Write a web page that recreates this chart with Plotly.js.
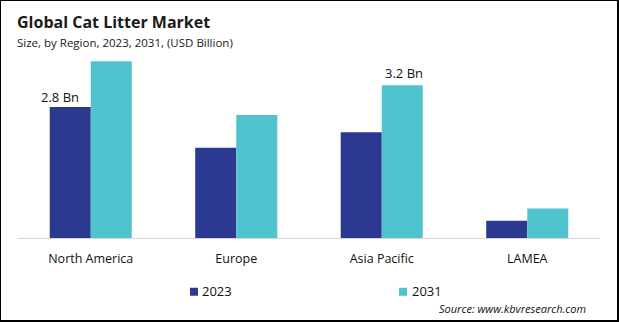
<!DOCTYPE html>
<html>
<head>
<meta charset="utf-8">
<script src="https://cdn.plot.ly/plotly-3.0.1.min.js"></script>
<style>
html,body{margin:0;padding:0;background:#fff;}
#wrap{width:616px;height:319px;border-left:1px solid #000;border-top:1px solid #000;border-right:2px solid #000;border-bottom:2px solid #000;}
#chart{width:616px;height:319px;}
</style>
</head>
<body>
<div id="wrap"><div id="chart"></div></div>
<script>
var categories = ["North America", "Europe", "Asia Pacific", "LAMEA"];
var values2023 = [2.8, 1.93, 2.26, 0.37];
var values2031 = [3.78, 2.63, 3.27, 0.63];
var seriesNames = ["2023", "2031"];
var colors = ["#2B3990", "#4FC4CF"];
var labelText = ["2.8 Bn", "3.2 Bn"];

var FONT = "Open Sans, sans-serif";
var plotW = 582, plotH = 187.84;
function px(x){ return (x - 18) / plotW; }
function py(y){ return (238.5 - y) / plotH; }

var traces = [
  {type: "bar", x: categories, y: values2023, name: seriesNames[0], marker: {color: colors[0]}, hoverinfo: "none"},
  {type: "bar", x: categories, y: values2031, name: seriesNames[1], marker: {color: colors[1]}, hoverinfo: "none"}
];

var annotations = [
  {xref: "paper", yref: "paper", x: px(15), y: py(22), xanchor: "left", yanchor: "middle", showarrow: false,
   text: "<b>Global Cat Litter Market</b>", font: {family: FONT, size: 16, color: "#1a1a1a"}},
  {xref: "paper", yref: "paper", x: px(15), y: py(42.5), xanchor: "left", yanchor: "middle", showarrow: false,
   text: "Size, by Region, 2023, 2031, (USD Billion)", font: {family: FONT, size: 11.5, color: "#1a1a1a"}},
  {x: categories[0], y: values2023[0], xshift: -31, yshift: 10, yanchor: "middle", showarrow: false,
   text: labelText[0], font: {family: FONT, size: 13, color: "#111"}},
  {x: categories[2], y: values2031[2], xshift: 22.5, yshift: 12, yanchor: "middle", showarrow: false,
   text: labelText[1], font: {family: FONT, size: 13, color: "#111"}},
  {xref: "paper", yref: "paper", x: px(200), y: py(292), xanchor: "left", yanchor: "middle", showarrow: false,
   text: seriesNames[0], font: {family: FONT, size: 13, color: "#111"}},
  {xref: "paper", yref: "paper", x: px(410), y: py(292), xanchor: "left", yanchor: "middle", showarrow: false,
   text: seriesNames[1], font: {family: FONT, size: 13, color: "#111"}},
  {xref: "paper", yref: "paper", x: px(588), y: py(309), xanchor: "right", yanchor: "middle", showarrow: false,
   text: "<i>Source: www.kbvresearch.com</i>", font: {family: FONT, size: 11, color: "#111"}}
];

var shapes = [
  {type: "rect", xref: "paper", yref: "paper", x0: px(190), x1: px(198), y0: py(296.5), y1: py(288.5), fillcolor: colors[0], line: {width: 0}},
  {type: "rect", xref: "paper", yref: "paper", x0: px(399), x1: px(407), y0: py(296.5), y1: py(288.5), fillcolor: colors[1], line: {width: 0}}
];

var layout = {
  width: 616, height: 319,
  margin: {l: 17, r: 17, t: 319 - 81.5 - plotH, b: 81.5, pad: 0},
  paper_bgcolor: "#fff", plot_bgcolor: "#fff",
  showlegend: false,
  barmode: "group", bargap: 0.436, bargroupgap: 0,
  xaxis: {type: "category", range: [-0.5, 3.5], showline: true, linecolor: "#d6d6d6", linewidth: 1,
          ticks: "", showgrid: false, zeroline: false, ticklabelstandoff: 9,
          tickfont: {family: FONT, size: 12.5, color: "#111"}},
  yaxis: {range: [0, 4], visible: false, showgrid: false, zeroline: false},
  annotations: annotations,
  shapes: shapes
};

Plotly.newPlot("chart", traces, layout, {displayModeBar: false, staticPlot: true});
</script>
</body>
</html>
